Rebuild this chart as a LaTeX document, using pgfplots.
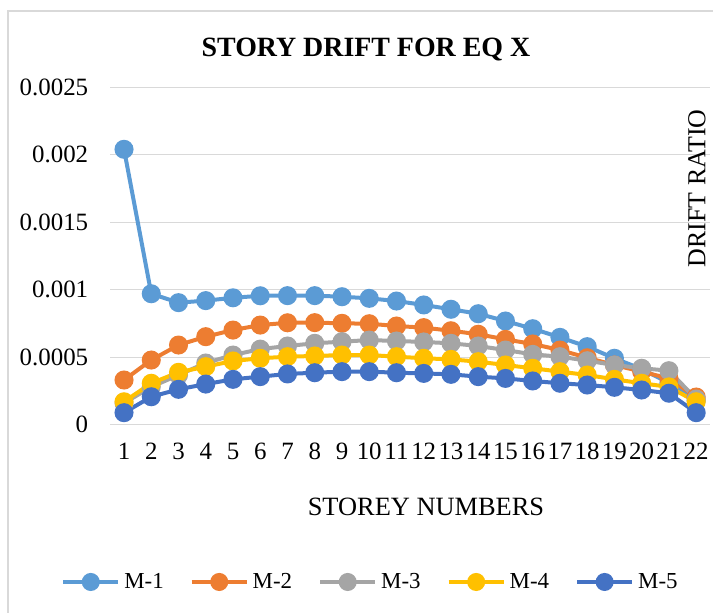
\documentclass[border=0pt]{standalone}
\usepackage{fontspec}
\setmainfont{Liberation Serif}
\usepackage{pgfplots}
\usepackage{pgfplotstable}
\pgfplotsset{compat=1.18}
\definecolor{cA}{HTML}{5B9BD5}
\definecolor{cB}{HTML}{ED7D31}
\definecolor{cC}{HTML}{A5A5A5}
\definecolor{cD}{HTML}{FFC000}
\definecolor{cE}{HTML}{4472C4}
\definecolor{gridc}{HTML}{D9D9D9}
\pgfplotstableread{
x m1 m2 m3 m4 m5
1 0.00204 0.000331 0.00016 0.00017 0.000089
2 0.00097 0.000479 0.00028 0.000307 0.000207
3 0.000904 0.00059 0.000368 0.000388 0.000262
4 0.000919 0.000652 0.000457 0.00043 0.000301
5 0.00094 0.000701 0.000516 0.000472 0.000336
6 0.000955 0.000738 0.00056 0.000492 0.000356
7 0.000956 0.000755 0.000583 0.000504 0.000376
8 0.000956 0.000756 0.000603 0.000509 0.000385
9 0.000948 0.000751 0.000615 0.000516 0.000393
10 0.000936 0.000748 0.000627 0.000516 0.000393
11 0.000916 0.000731 0.00062 0.000504 0.000385
12 0.000887 0.000719 0.000613 0.000492 0.00038
13 0.000855 0.000696 0.000603 0.000484 0.000373
14 0.000822 0.00067 0.000583 0.000467 0.000356
15 0.000768 0.000632 0.000553 0.000442 0.000343
16 0.000711 0.000598 0.000521 0.000418 0.000324
17 0.000647 0.000553 0.000504 0.000393 0.000307
18 0.000578 0.000496 0.000474 0.000368 0.000294
19 0.000492 0.000442 0.000442 0.000336 0.000277
20 0.000412 0.000393 0.000418 0.000307 0.000257
21 0.00031 0.000343 0.0004 0.00028 0.000233
22 0.00018 0.000205 0.00019 0.00017 0.000089
}\drift
\begin{document}
\begin{tikzpicture}
\path[use as bounding box] (0,0) rectangle (713bp,613bp);
\draw[gridc, line width=1.2bp] (8bp,0) -- (8bp,602bp) -- (713bp,602bp);
\begin{axis}[
  at={(110.4bp,188.3bp)}, anchor=south west,
  width=599.4bp, height=337.5bp, scale only axis,
  xmin=0.5, xmax=22.5, ymin=0, ymax=0.0025,
  clip=false,
  scaled y ticks=false,
  axis line style={draw=none},
  major tick length=0pt,
  ytick={0,0.0005,0.001,0.0015,0.002,0.0025},
  yticklabels={0,0.0005,0.001,0.0015,0.002,0.0025},
  xtick={1,2,3,4,5,6,7,8,9,10,11,12,13,14,15,16,17,18,19,20,21,22},
  xticklabels={1,2,3,4,5,6,7,8,9,10,11,12,13,14,15,16,17,18,19,20,21,22},
  ymajorgrids, grid style={gridc, line width=1.2bp},
  y tick label style={anchor=east, inner sep=0pt, xshift=-22bp, font=\fontsize{25}{25}\selectfont},
  x tick label style={anchor=north, inner sep=0pt, yshift=-18bp, font=\fontsize{25}{25}\selectfont},
  title={STORY DRIFT FOR EQ X},
  title style={at={(axis description cs:0.4264,1.094)}, anchor=center, font=\bfseries\fontsize{28}{28}\selectfont},
  xlabel={STOREY NUMBERS},
  x label style={at={(axis description cs:0.5265,-0.244)}, anchor=center, font=\fontsize{26.5}{26.5}\selectfont},
  ylabel={DRIFT RATIO},
  y label style={at={(axis description cs:0.9786,0.70)}, anchor=center, font=\fontsize{26}{26}\selectfont},
  legend columns=5,
  legend style={at={(axis description cs:0.433,-0.466)}, anchor=center, draw=none, fill=none,
    font=\fontsize{23}{23}\selectfont,
    nodes={inner sep=1bp},
    /tikz/every odd column/.append style={column sep=3bp},
    /tikz/every even column/.append style={column sep=25bp}},
  legend image code/.code={%
    \draw[#1,mark=none] (0bp,0bp) -- (55bp,0bp);
    \draw[#1,only marks,mark size=7bp] plot coordinates {(27.5bp,0bp)};},
  every axis plot/.append style={line width=4bp, mark=*, mark size=7.5bp},
]
\addplot[cA, mark options={fill=cA, draw=cA}] table[x=x,y=m1] {\drift};
\addlegendentry{M-1}
\addplot[cB, mark options={fill=cB, draw=cB}] table[x=x,y=m2] {\drift};
\addlegendentry{M-2}
\addplot[cC, mark options={fill=cC, draw=cC}] table[x=x,y=m3] {\drift};
\addlegendentry{M-3}
\addplot[cD, mark options={fill=cD, draw=cD}] table[x=x,y=m4] {\drift};
\addlegendentry{M-4}
\addplot[cE, mark options={fill=cE, draw=cE}] table[x=x,y=m5] {\drift};
\addlegendentry{M-5}
\end{axis}
\end{tikzpicture}
\end{document}
